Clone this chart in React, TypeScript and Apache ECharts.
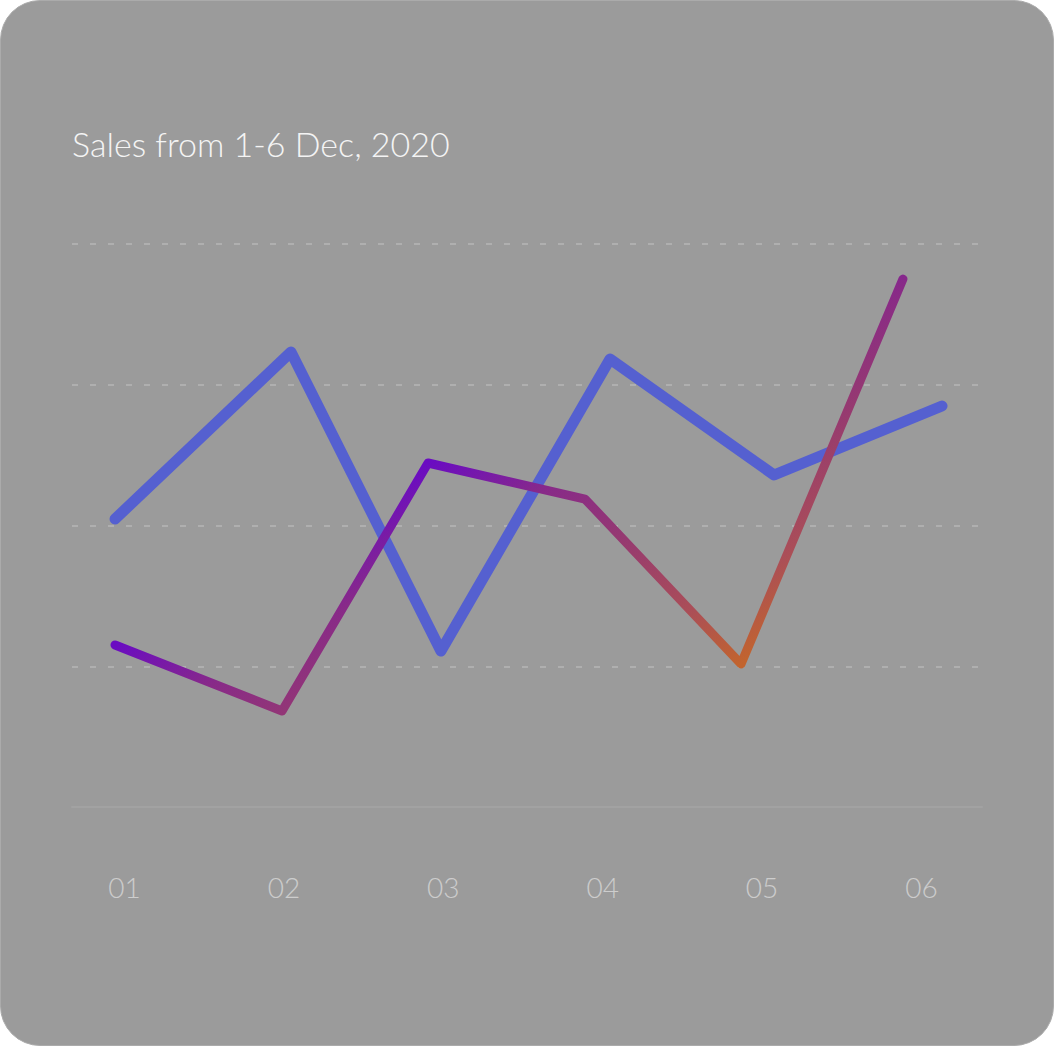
import React, { useEffect, useRef } from "react";
import * as echarts from "echarts";

const titleText = "Sales from 1-6 Dec, 2020";
const tickValues = [1, 2, 3, 4, 5, 6];
const tickLabels = ["01", "02", "03", "04", "05", "06"];

const blueX = [0.94, 2.044, 2.985, 4.046, 5.075, 6.129];
const blueY = [2.046, 3.233, 1.108, 3.183, 2.359, 2.849];

const purpleX = [0.94, 1.988, 2.904, 3.889, 4.868, 5.884];
const purpleY = [1.151, 0.682, 2.444, 2.188, 1.016, 3.751];

const gradientStops = [
  { offset: 0, color: "#6a0cc2" },
  { offset: 0.25, color: "#882a88" },
  { offset: 0.5, color: "#963a70" },
  { offset: 0.78, color: "#aa4e58" },
  { offset: 1, color: "#c2642e" },
];

export default function App() {
  const ref = useRef<HTMLDivElement>(null);

  useEffect(() => {
    document.body.style.margin = "0";
    if (!ref.current) return;
    const chart = echarts.init(ref.current, null, { renderer: "svg" });
    const blueData = blueX.map((x, i) => [x, blueY[i]]);
    const purpleData = purpleX.map((x, i) => [x, purpleY[i]]);
    const option: any = {
      animation: false,
      backgroundColor: "transparent",
      title: {
        text: titleText,
        left: 72,
        top: 126,
        padding: 0,
        textStyle: {
          color: "#f4f4f4",
          fontFamily: "Lato",
          fontSize: 34,
          fontWeight: 300,
        },
      },
      grid: { left: 72, right: 72, top: 244, bottom: 239, containLabel: false },
      xAxis: {
        type: "value",
        min: 0.67,
        max: 6.38,
        splitLine: { show: false },
        axisTick: { show: false },
        axisLine: { show: true, lineStyle: { color: "rgba(255,255,255,0.07)", width: 2 } },
        axisLabel: {
          customValues: tickValues,
          formatter: (v: number) => tickLabels[tickValues.indexOf(Math.round(v))] ?? "",
          color: "rgba(255,255,255,0.5)",
          fontFamily: "Lato",
          fontSize: 28,
          fontWeight: 300,
          verticalAlign: "middle",
          margin: 80,
        },
      },
      yAxis: {
        type: "value",
        min: 0,
        max: 4,
        interval: 1,
        axisLine: { show: false },
        axisTick: { show: false },
        axisLabel: { show: false },
        splitLine: {
          show: true,
          lineStyle: {
            color: ["rgba(0,0,0,0)", "rgba(255,255,255,0.2)", "rgba(255,255,255,0.2)", "rgba(255,255,255,0.2)", "rgba(255,255,255,0.2)"],
            width: 2,
            type: [6, 12],
          },
        },
      },
      series: [
        {
          type: "line",
          data: blueData,
          symbol: "none",
          lineStyle: { color: "#5560d0", width: 11, cap: "round", join: "round" },
          z: 2,
        },
        {
          type: "line",
          data: purpleData,
          symbol: "none",
          lineStyle: { color: "#6a0cc2", width: 9, cap: "round", join: "round" },
          z: 3,
        },
      ],
    };
    chart.setOption(option);
    const p0 = chart.convertToPixel({ gridIndex: 0 }, purpleData[0]) as number[];
    const p1 = [p0[0] + 166, p0[1] + 286];
    chart.setOption({
      series: [
        {},
        {
          lineStyle: {
            color: new echarts.graphic.LinearGradient(p0[0], p0[1], p1[0], p1[1], gradientStops, true),
          },
        },
      ],
    });
    return () => chart.dispose();
  }, []);

  return (
    <div
      style={{
        position: "fixed",
        left: 0,
        top: 0,
        width: 1054,
        height: 1046,
        boxSizing: "border-box",
        borderRadius: 40,
        background: "#9b9b9b",
        border: "1px solid #ababab",
        overflow: "hidden",
      }}
    >
      <div ref={ref} style={{ position: "absolute", left: -1, top: -1, width: 1054, height: 1046 }} />
    </div>
  );
}
